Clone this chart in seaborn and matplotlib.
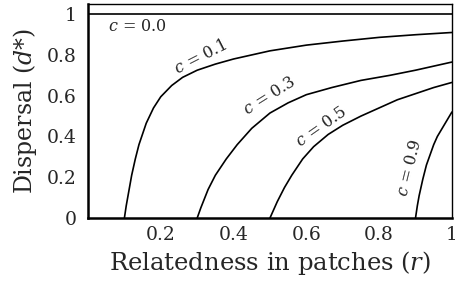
import pandas as pd
import matplotlib
matplotlib.use("Agg")
import matplotlib.pyplot as plt
import seaborn as sns

#--------------------values------------------------------------------------------------------------
c_values = [0.0, 0.1, 0.3, 0.5, 0.9]

r_c00 = [0.0, 1.0]
d_c00 = [1.0, 1.0]

r_c01 = [0.1, 0.105, 0.11, 0.115, 0.12, 0.13, 0.14, 0.16, 0.18, 0.2, 0.23, 0.26, 0.3,
         0.35, 0.4, 0.45, 0.5, 0.6, 0.7, 0.8, 0.9, 1.0]
d_c01 = [0.0, 0.06, 0.11, 0.16, 0.21, 0.29, 0.36, 0.465, 0.54, 0.595, 0.65, 0.69, 0.725,
         0.755, 0.78, 0.80, 0.82, 0.848, 0.868, 0.886, 0.899, 0.91]

r_c03 = [0.3, 0.305, 0.31, 0.32, 0.33, 0.35, 0.38, 0.41, 0.45, 0.5, 0.55, 0.6, 0.67,
         0.75, 0.83, 0.9, 1.0]
d_c03 = [0.0, 0.025, 0.05, 0.095, 0.14, 0.21, 0.29, 0.36, 0.44, 0.515, 0.565, 0.605, 0.64,
         0.675, 0.70, 0.725, 0.765]

r_c05 = [0.5, 0.51, 0.52, 0.54, 0.56, 0.59, 0.62, 0.66, 0.7, 0.75, 0.8, 0.85, 0.9, 0.95, 1.0]
d_c05 = [0.0, 0.04, 0.08, 0.15, 0.21, 0.29, 0.35, 0.41, 0.455, 0.50, 0.54, 0.58, 0.61, 0.64, 0.665]

r_c09 = [0.9, 0.905, 0.91, 0.92, 0.93, 0.94, 0.95, 0.96, 0.97, 0.98, 0.99, 1.0]
d_c09 = [0.0, 0.06, 0.11, 0.19, 0.26, 0.31, 0.36, 0.40, 0.43, 0.46, 0.49, 0.52]

x_ticks = [0.2, 0.4, 0.6, 0.8, 1.0]
x_ticklabels = ["0.2", "0.4", "0.6", "0.8", "1"]
y_ticks = [0, 0.2, 0.4, 0.6, 0.8, 1.0]
y_ticklabels = ["0", "0.2", "0.4", "0.6", "0.8", "1"]

# curve labels: text, x, y, rotation
curve_labels = [
    ("$c$ = 0.0", 0.137, 0.94, 0),
    ("$c$ = 0.1", 0.31, 0.79, 27),
    ("$c$ = 0.3", 0.50, 0.60, 32),
    ("$c$ = 0.5", 0.64, 0.445, 35),
    ("$c$ = 0.9", 0.885, 0.245, 76),
]
#-------------------------------------------------------------------------------------------------

frames = []
for c, r, d in zip(c_values, [r_c00, r_c01, r_c03, r_c05, r_c09],
                   [d_c00, d_c01, d_c03, d_c05, d_c09]):
    frames.append(pd.DataFrame({"r": r, "d": d, "c": str(c)}))
df = pd.concat(frames, ignore_index=True)

sns.set_style("white")
plt.rcParams["font.family"] = ["DejaVu Serif"]
plt.rcParams["mathtext.fontset"] = "dejavuserif"

fig = plt.figure(figsize=(4.56, 2.81), dpi=100)
ax = fig.add_axes([0.193, 0.224, 0.798, 0.762])

sns.lineplot(data=df, x="r", y="d", hue="c", palette=["black"] * 5,
             estimator=None, sort=False, legend=False, linewidth=1.2, ax=ax)

for text, x, y, rot in curve_labels:
    ax.text(x, y, text, rotation=rot, ha="center", va="center",
            fontsize=11.5, rotation_mode="anchor")

ax.set_xlim(0, 1)
ax.set_ylim(0, 1.05)
ax.set_xticks(x_ticks)
ax.set_xticklabels(x_ticklabels)
ax.set_yticks(y_ticks)
ax.set_yticklabels(y_ticklabels)
ax.tick_params(length=0, labelsize=13.5)
ax.tick_params(axis="x", pad=6)
ax.tick_params(axis="y", pad=8)
ax.set_xlabel("Relatedness in patches ($r$)", fontsize=17.5, labelpad=3)
ax.set_ylabel("Dispersal ($d$*)", fontsize=17, labelpad=6)

for side in ["top", "right"]:
    ax.spines[side].set_linewidth(1.0)
    ax.spines[side].set_color("black")
for side in ["left", "bottom"]:
    ax.spines[side].set_linewidth(1.8)
    ax.spines[side].set_color("black")

fig.savefig("out.png", dpi=100)
